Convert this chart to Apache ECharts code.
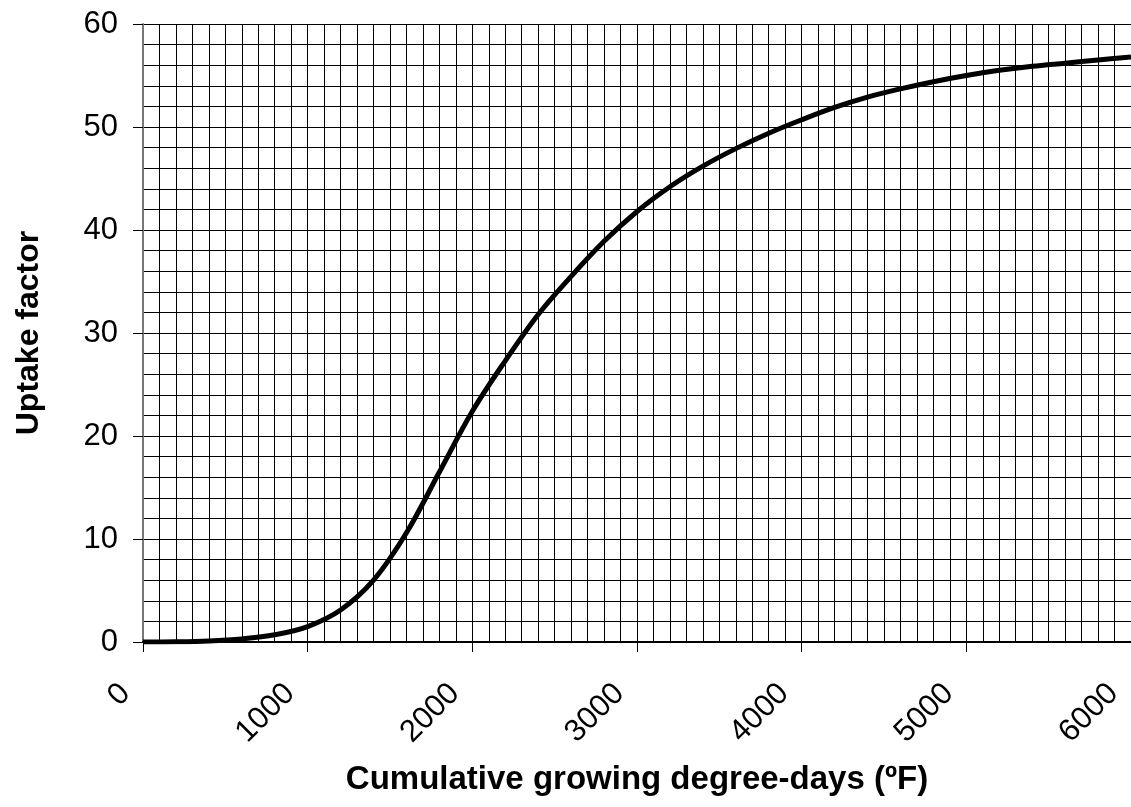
<!DOCTYPE html>
<html>
<head>
<meta charset="utf-8">
<script src="https://cdn.jsdelivr.net/npm/echarts@6/dist/echarts.min.js"></script>
<style>
  html, body { margin: 0; padding: 0; background: #fff; }
  #chart { width: 1131px; height: 807px; }
</style>
</head>
<body>
<div id="chart"></div>
<script>
// Cumulative growing degree-days (ºF), every 200
const degreeDays = [0, 200, 400, 600, 800, 1000, 1200, 1400, 1600, 1800, 2000,
  2200, 2400, 2600, 2800, 3000, 3200, 3400, 3600, 3800, 4000,
  4200, 4400, 4600, 4800, 5000, 5200, 5400, 5600, 5800, 6000];
// Uptake factor at each degree-day value
const uptake = [0, 0.02, 0.1, 0.3, 0.7, 1.5, 3.1, 6.0, 10.6, 16.5, 22.4,
  27.3, 31.8, 35.5, 38.9, 41.8, 44.2, 46.2, 47.9, 49.4, 50.7,
  51.9, 52.9, 53.7, 54.4, 55.0, 55.5, 55.9, 56.2, 56.5, 56.8];

const xTicks = { min: 0, max: 6000, step: 1000 };
const yTicks = { min: 0, max: 60, step: 10 };

const gridLine = { color: '#000', width: 1 };
const labelFont = 'Liberation Sans, Arial, sans-serif';

const chart = echarts.init(document.getElementById('chart'), null, { renderer: 'canvas' });
chart.setOption({
  animation: false,
  backgroundColor: '#fff',
  grid: { left: 143, top: 24, right: -5, bottom: 165, containLabel: false },
  xAxis: {
    type: 'value',
    min: xTicks.min, max: xTicks.max, interval: xTicks.step,
    name: 'Cumulative growing degree-days (ºF)',
    nameLocation: 'middle',
    nameGap: 121,
    nameTextStyle: { fontFamily: labelFont, fontSize: 33, fontWeight: 'bold', color: '#000' },
    axisLine: { show: true, lineStyle: { color: '#000', width: 2 } },
    axisTick: { show: true, length: 10, lineStyle: { color: '#000', width: 1 } },
    axisLabel: {
      rotate: 45, margin: 29, padding: [0, 25, 0, 0],
      fontFamily: labelFont, fontSize: 31, color: '#000',
      formatter: (v) => String(v)
    },
    splitLine: { show: true, lineStyle: gridLine },
    minorTick: { show: false, splitNumber: 10 },
    minorSplitLine: { show: true, lineStyle: gridLine }
  },
  yAxis: {
    type: 'value',
    min: yTicks.min, max: yTicks.max, interval: yTicks.step,
    name: 'Uptake factor',
    nameLocation: 'middle',
    nameGap: 98,
    nameTextStyle: { fontFamily: labelFont, fontSize: 32, fontWeight: 'bold', color: '#000' },
    axisLine: { show: true, lineStyle: { color: '#777', width: 2 } },
    axisTick: { show: true, length: 10, lineStyle: { color: '#000', width: 1 } },
    axisLabel: { margin: 25, fontFamily: labelFont, fontSize: 31, color: '#000' },
    splitLine: { show: true, lineStyle: gridLine },
    minorTick: { show: false, splitNumber: 5 },
    minorSplitLine: { show: true, lineStyle: gridLine }
  },
  series: [{
    type: 'line',
    data: degreeDays.map((d, i) => [d, uptake[i]]),
    smooth: 0.35,
    showSymbol: false,
    lineStyle: { color: '#000', width: 5 },
    z: 5
  }]
});
</script>
</body>
</html>
